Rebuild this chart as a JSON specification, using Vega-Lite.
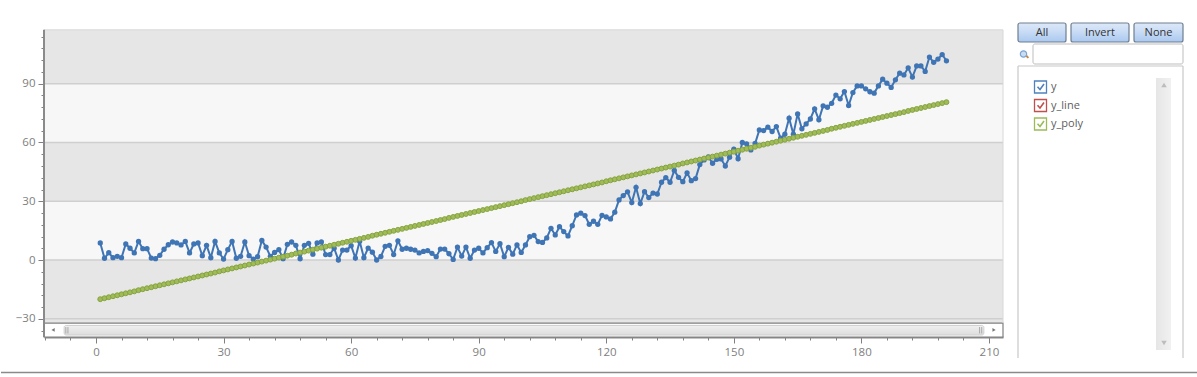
{"$schema":"https://vega.github.io/schema/vega-lite/v6.json","background":"white","padding":{"left":0,"top":22,"right":0,"bottom":0},"config":{"view":{"stroke":null},"font":"Open Sans"},"datasets":{"series":[{"x":1,"y":8.7,"y_line":-20,"y_poly":-20},{"x":2,"y":0.9,"y_line":-19.5,"y_poly":-19.5},{"x":3,"y":3.7,"y_line":-19,"y_poly":-19},{"x":4,"y":1.2,"y_line":-18.5,"y_poly":-18.5},{"x":5,"y":1.9,"y_line":-18,"y_poly":-18},{"x":6,"y":1.2,"y_line":-17.5,"y_poly":-17.5},{"x":7,"y":8.2,"y_line":-17,"y_poly":-17},{"x":8,"y":6,"y_line":-16.5,"y_poly":-16.5},{"x":9,"y":3.6,"y_line":-16,"y_poly":-16},{"x":10,"y":9.5,"y_line":-15.4,"y_poly":-15.4},{"x":11,"y":5.8,"y_line":-14.9,"y_poly":-14.9},{"x":12,"y":5.8,"y_line":-14.4,"y_poly":-14.4},{"x":13,"y":1,"y_line":-13.9,"y_poly":-13.9},{"x":14,"y":0.7,"y_line":-13.4,"y_poly":-13.4},{"x":15,"y":2.4,"y_line":-12.9,"y_poly":-12.9},{"x":16,"y":5.5,"y_line":-12.4,"y_poly":-12.4},{"x":17,"y":7.8,"y_line":-11.9,"y_poly":-11.9},{"x":18,"y":9.2,"y_line":-11.4,"y_poly":-11.4},{"x":19,"y":8.7,"y_line":-10.9,"y_poly":-10.9},{"x":20,"y":7.7,"y_line":-10.4,"y_poly":-10.4},{"x":21,"y":9.5,"y_line":-9.9,"y_poly":-9.9},{"x":22,"y":3.6,"y_line":-9.4,"y_poly":-9.4},{"x":23,"y":8.2,"y_line":-8.9,"y_poly":-8.9},{"x":24,"y":8.7,"y_line":-8.4,"y_poly":-8.4},{"x":25,"y":2.2,"y_line":-7.9,"y_poly":-7.9},{"x":26,"y":7.5,"y_line":-7.4,"y_poly":-7.4},{"x":27,"y":1.2,"y_line":-6.9,"y_poly":-6.9},{"x":28,"y":9.5,"y_line":-6.4,"y_poly":-6.4},{"x":29,"y":3.6,"y_line":-5.8,"y_poly":-5.8},{"x":30,"y":0.5,"y_line":-5.3,"y_poly":-5.3},{"x":31,"y":5.3,"y_line":-4.8,"y_poly":-4.8},{"x":32,"y":9.5,"y_line":-4.3,"y_poly":-4.3},{"x":33,"y":0.9,"y_line":-3.8,"y_poly":-3.8},{"x":34,"y":1.9,"y_line":-3.3,"y_poly":-3.3},{"x":35,"y":9.2,"y_line":-2.8,"y_poly":-2.8},{"x":36,"y":2.2,"y_line":-2.3,"y_poly":-2.3},{"x":37,"y":0.5,"y_line":-1.8,"y_poly":-1.8},{"x":38,"y":1.7,"y_line":-1.3,"y_poly":-1.3},{"x":39,"y":10,"y_line":-0.8,"y_poly":-0.8},{"x":40,"y":6.6,"y_line":-0.3,"y_poly":-0.3},{"x":41,"y":1.9,"y_line":0.2,"y_poly":0.2},{"x":42,"y":3.9,"y_line":0.7,"y_poly":0.7},{"x":43,"y":5.3,"y_line":1.2,"y_poly":1.2},{"x":44,"y":0.7,"y_line":1.7,"y_poly":1.7},{"x":45,"y":8,"y_line":2.2,"y_poly":2.2},{"x":46,"y":9.2,"y_line":2.7,"y_poly":2.7},{"x":47,"y":7.5,"y_line":3.3,"y_poly":3.3},{"x":48,"y":0.7,"y_line":3.8,"y_poly":3.8},{"x":49,"y":7.5,"y_line":4.3,"y_poly":4.3},{"x":50,"y":8.5,"y_line":4.8,"y_poly":4.8},{"x":51,"y":3,"y_line":5.3,"y_poly":5.3},{"x":52,"y":8.7,"y_line":5.8,"y_poly":5.8},{"x":53,"y":9.2,"y_line":6.3,"y_poly":6.3},{"x":54,"y":2.8,"y_line":6.8,"y_poly":6.8},{"x":55,"y":2.8,"y_line":7.3,"y_poly":7.3},{"x":56,"y":6,"y_line":7.8,"y_poly":7.8},{"x":57,"y":0,"y_line":8.3,"y_poly":8.3},{"x":58,"y":5.1,"y_line":8.8,"y_poly":8.8},{"x":59,"y":5.1,"y_line":9.3,"y_poly":9.3},{"x":60,"y":7.3,"y_line":9.8,"y_poly":9.8},{"x":61,"y":1,"y_line":10.3,"y_poly":10.3},{"x":62,"y":9.6,"y_line":10.8,"y_poly":10.8},{"x":63,"y":1.2,"y_line":11.3,"y_poly":11.3},{"x":64,"y":6.1,"y_line":11.8,"y_poly":11.8},{"x":65,"y":4,"y_line":12.4,"y_poly":12.4},{"x":66,"y":0,"y_line":12.9,"y_poly":12.9},{"x":67,"y":1.8,"y_line":13.4,"y_poly":13.4},{"x":68,"y":7,"y_line":13.9,"y_poly":13.9},{"x":69,"y":7.5,"y_line":14.4,"y_poly":14.4},{"x":70,"y":2.8,"y_line":14.9,"y_poly":14.9},{"x":71,"y":9.8,"y_line":15.4,"y_poly":15.4},{"x":72,"y":5.5,"y_line":15.9,"y_poly":15.9},{"x":73,"y":6,"y_line":16.4,"y_poly":16.4},{"x":74,"y":5.5,"y_line":16.9,"y_poly":16.9},{"x":75,"y":5.1,"y_line":17.4,"y_poly":17.4},{"x":76,"y":3.6,"y_line":17.9,"y_poly":17.9},{"x":77,"y":4.4,"y_line":18.4,"y_poly":18.4},{"x":78,"y":4.8,"y_line":18.9,"y_poly":18.9},{"x":79,"y":3.4,"y_line":19.4,"y_poly":19.4},{"x":80,"y":1.7,"y_line":19.9,"y_poly":19.9},{"x":81,"y":5.6,"y_line":20.4,"y_poly":20.4},{"x":82,"y":5.6,"y_line":20.9,"y_poly":20.9},{"x":83,"y":3.2,"y_line":21.5,"y_poly":21.5},{"x":84,"y":0.3,"y_line":22,"y_poly":22},{"x":85,"y":6.6,"y_line":22.5,"y_poly":22.5},{"x":86,"y":2,"y_line":23,"y_poly":23},{"x":87,"y":6.6,"y_line":23.5,"y_poly":23.5},{"x":88,"y":0.9,"y_line":24,"y_poly":24},{"x":89,"y":5.1,"y_line":24.5,"y_poly":24.5},{"x":90,"y":6,"y_line":25,"y_poly":25},{"x":91,"y":3.6,"y_line":25.5,"y_poly":25.5},{"x":92,"y":6.3,"y_line":26,"y_poly":26},{"x":93,"y":8.9,"y_line":26.5,"y_poly":26.5},{"x":94,"y":4.4,"y_line":27,"y_poly":27},{"x":95,"y":8.3,"y_line":27.5,"y_poly":27.5},{"x":96,"y":1.7,"y_line":28,"y_poly":28},{"x":97,"y":6.5,"y_line":28.5,"y_poly":28.5},{"x":98,"y":3,"y_line":29,"y_poly":29},{"x":99,"y":7.7,"y_line":29.5,"y_poly":29.5},{"x":100,"y":3.9,"y_line":30,"y_poly":30},{"x":101,"y":7.7,"y_line":30.6,"y_poly":30.6},{"x":102,"y":11.9,"y_line":31.1,"y_poly":31.1},{"x":103,"y":12.6,"y_line":31.6,"y_poly":31.6},{"x":104,"y":9.4,"y_line":32.1,"y_poly":32.1},{"x":105,"y":9,"y_line":32.6,"y_poly":32.6},{"x":106,"y":11.3,"y_line":33.1,"y_poly":33.1},{"x":107,"y":16.2,"y_line":33.6,"y_poly":33.6},{"x":108,"y":12.8,"y_line":34.1,"y_poly":34.1},{"x":109,"y":17,"y_line":34.6,"y_poly":34.6},{"x":110,"y":14.5,"y_line":35.1,"y_poly":35.1},{"x":111,"y":12.3,"y_line":35.6,"y_poly":35.6},{"x":112,"y":17.5,"y_line":36.1,"y_poly":36.1},{"x":113,"y":23,"y_line":36.6,"y_poly":36.6},{"x":114,"y":23.9,"y_line":37.1,"y_poly":37.1},{"x":115,"y":22.7,"y_line":37.6,"y_poly":37.6},{"x":116,"y":18.2,"y_line":38.1,"y_poly":38.1},{"x":117,"y":19.8,"y_line":38.6,"y_poly":38.6},{"x":118,"y":18.2,"y_line":39.1,"y_poly":39.1},{"x":119,"y":22.8,"y_line":39.6,"y_poly":39.6},{"x":120,"y":22,"y_line":40.2,"y_poly":40.2},{"x":121,"y":21,"y_line":40.7,"y_poly":40.7},{"x":122,"y":24.4,"y_line":41.2,"y_poly":41.2},{"x":123,"y":30.7,"y_line":41.7,"y_poly":41.7},{"x":124,"y":32.9,"y_line":42.2,"y_poly":42.2},{"x":125,"y":34.8,"y_line":42.7,"y_poly":42.7},{"x":126,"y":29.3,"y_line":43.2,"y_poly":43.2},{"x":127,"y":37.1,"y_line":43.7,"y_poly":43.7},{"x":128,"y":28.8,"y_line":44.2,"y_poly":44.2},{"x":129,"y":34.9,"y_line":44.7,"y_poly":44.7},{"x":130,"y":31.9,"y_line":45.2,"y_poly":45.2},{"x":131,"y":34.2,"y_line":45.7,"y_poly":45.7},{"x":132,"y":33.7,"y_line":46.2,"y_poly":46.2},{"x":133,"y":39.7,"y_line":46.7,"y_poly":46.7},{"x":134,"y":42.1,"y_line":47.2,"y_poly":47.2},{"x":135,"y":39.7,"y_line":47.7,"y_poly":47.7},{"x":136,"y":45.7,"y_line":48.2,"y_poly":48.2},{"x":137,"y":42.2,"y_line":48.7,"y_poly":48.7},{"x":138,"y":40,"y_line":49.3,"y_poly":49.3},{"x":139,"y":44.5,"y_line":49.8,"y_poly":49.8},{"x":140,"y":40.5,"y_line":50.3,"y_poly":50.3},{"x":141,"y":41.6,"y_line":50.8,"y_poly":50.8},{"x":142,"y":48.7,"y_line":51.3,"y_poly":51.3},{"x":143,"y":51.1,"y_line":51.8,"y_poly":51.8},{"x":144,"y":52.6,"y_line":52.3,"y_poly":52.3},{"x":145,"y":49.4,"y_line":52.8,"y_poly":52.8},{"x":146,"y":51.4,"y_line":53.3,"y_poly":53.3},{"x":147,"y":51.6,"y_line":53.8,"y_poly":53.8},{"x":148,"y":48,"y_line":54.3,"y_poly":54.3},{"x":149,"y":52.5,"y_line":54.8,"y_poly":54.8},{"x":150,"y":56.6,"y_line":55.3,"y_poly":55.3},{"x":151,"y":51.7,"y_line":55.8,"y_poly":55.8},{"x":152,"y":60,"y_line":56.3,"y_poly":56.3},{"x":153,"y":59.3,"y_line":56.8,"y_poly":56.8},{"x":154,"y":56.2,"y_line":57.3,"y_poly":57.3},{"x":155,"y":59.5,"y_line":57.8,"y_poly":57.8},{"x":156,"y":66.4,"y_line":58.4,"y_poly":58.4},{"x":157,"y":66.1,"y_line":58.9,"y_poly":58.9},{"x":158,"y":67.8,"y_line":59.4,"y_poly":59.4},{"x":159,"y":65.6,"y_line":59.9,"y_poly":59.9},{"x":160,"y":68.1,"y_line":60.4,"y_poly":60.4},{"x":161,"y":62.2,"y_line":60.9,"y_poly":60.9},{"x":162,"y":64.2,"y_line":61.4,"y_poly":61.4},{"x":163,"y":72.4,"y_line":61.9,"y_poly":61.9},{"x":164,"y":64.2,"y_line":62.4,"y_poly":62.4},{"x":165,"y":74.6,"y_line":62.9,"y_poly":62.9},{"x":166,"y":67,"y_line":63.4,"y_poly":63.4},{"x":167,"y":69.5,"y_line":63.9,"y_poly":63.9},{"x":168,"y":72,"y_line":64.4,"y_poly":64.4},{"x":169,"y":77.2,"y_line":64.9,"y_poly":64.9},{"x":170,"y":71.6,"y_line":65.4,"y_poly":65.4},{"x":171,"y":78.7,"y_line":65.9,"y_poly":65.9},{"x":172,"y":78,"y_line":66.4,"y_poly":66.4},{"x":173,"y":80,"y_line":67,"y_poly":67},{"x":174,"y":84.2,"y_line":67.5,"y_poly":67.5},{"x":175,"y":82.3,"y_line":68,"y_poly":68},{"x":176,"y":86,"y_line":68.5,"y_poly":68.5},{"x":177,"y":78.9,"y_line":69,"y_poly":69},{"x":178,"y":85.5,"y_line":69.5,"y_poly":69.5},{"x":179,"y":88.9,"y_line":70,"y_poly":70},{"x":180,"y":88.9,"y_line":70.5,"y_poly":70.5},{"x":181,"y":87.4,"y_line":71,"y_poly":71},{"x":182,"y":85.9,"y_line":71.5,"y_poly":71.5},{"x":183,"y":85.2,"y_line":72,"y_poly":72},{"x":184,"y":88.9,"y_line":72.5,"y_poly":72.5},{"x":185,"y":92.3,"y_line":73,"y_poly":73},{"x":186,"y":90.3,"y_line":73.5,"y_poly":73.5},{"x":187,"y":88.1,"y_line":74,"y_poly":74},{"x":188,"y":92,"y_line":74.5,"y_poly":74.5},{"x":189,"y":95.4,"y_line":75,"y_poly":75},{"x":190,"y":94.5,"y_line":75.5,"y_poly":75.5},{"x":191,"y":98.1,"y_line":76.1,"y_poly":76.1},{"x":192,"y":93.4,"y_line":76.6,"y_poly":76.6},{"x":193,"y":99.1,"y_line":77.1,"y_poly":77.1},{"x":194,"y":99.1,"y_line":77.6,"y_poly":77.6},{"x":195,"y":96.3,"y_line":78.1,"y_poly":78.1},{"x":196,"y":103.6,"y_line":78.6,"y_poly":78.6},{"x":197,"y":100.9,"y_line":79.1,"y_poly":79.1},{"x":198,"y":102.6,"y_line":79.6,"y_poly":79.6},{"x":199,"y":104.9,"y_line":80.1,"y_poly":80.1},{"x":200,"y":101.7,"y_line":80.6,"y_poly":80.6}]},"vconcat":[{"hconcat":[{"width":959,"height":314,"resolve":{"axis":{"x":"independent","y":"independent"}},"layer":[{"data":{"values":[{"low":-32.2,"high":0,"tone":"grey"},{"low":0,"high":30,"tone":"pale"},{"low":30,"high":60,"tone":"grey"},{"low":60,"high":90,"tone":"pale"},{"low":90,"high":117.5,"tone":"grey"}]},"mark":{"type":"rect"},"encoding":{"y":{"field":"low","type":"quantitative","scale":{"domain":[-39.3,121],"nice":false,"zero":false},"axis":{"title":null,"domain":false,"grid":false,"values":[-36,-30,-24,-18,-12,-6,0,6,12,18,24,30,36,42,48,54,60,66,72,78,84,90,96,102,108,114],"labelExpr":"datum.value % 30 === 0 ? datum.label : ''","labelColor":"#808080","labelFontSize":11.5,"labelFont":"Open Sans","labelPadding":3,"tickColor":"#808080","tickWidth":1,"tickSize":{"condition":{"test":"datum.value % 30 === 0","value":6},"value":3},"minExtent":43,"maxExtent":43,"labelOverlap":false,"labelBound":false,"labelFlush":false}},"y2":{"field":"high"},"fill":{"field":"tone","type":"nominal","scale":{"domain":["grey","pale"],"range":["#E6E6E6","#F7F7F7"]},"legend":null}}},{"data":{"values":[{"level":-30},{"level":0},{"level":30},{"level":60},{"level":90}]},"mark":{"type":"rule","color":"#CFCFCF","strokeWidth":1.5},"encoding":{"y":{"field":"level","type":"quantitative","scale":{"domain":[-39.3,121],"nice":false,"zero":false},"axis":null}}},{"data":{"values":[{"edge":117.5}]},"mark":{"type":"rule","color":"#D8D8D8","strokeWidth":1},"encoding":{"y":{"field":"edge","type":"quantitative","scale":{"domain":[-39.3,121],"nice":false,"zero":false},"axis":null}}},{"data":{"values":[{"x":-12.23,"x2":213.3,"low":-39.3,"high":-32.2}]},"mark":{"type":"rect","fill":"white","stroke":"#808080","strokeWidth":1.2},"encoding":{"x":{"field":"x","type":"quantitative","scale":{"domain":[-12.23,213.3],"nice":false,"zero":false},"axis":null},"x2":{"field":"x2"},"y":{"field":"low","type":"quantitative","scale":{"domain":[-39.3,121],"nice":false,"zero":false},"axis":null},"y2":{"field":"high"}}},{"data":{"values":[{"x":-7.5,"x2":208.8,"low":-38.3,"high":-33.4}]},"mark":{"type":"rect","cornerRadius":2,"stroke":"#CFCFCF","fill":{"gradient":"linear","x1":0,"y1":0,"x2":0,"y2":1,"stops":[{"offset":0,"color":"#F0F0F0"},{"offset":1,"color":"#DDDDDD"}]}},"encoding":{"x":{"field":"x","type":"quantitative","scale":{"domain":[-12.23,213.3],"nice":false,"zero":false},"axis":null},"x2":{"field":"x2"},"y":{"field":"low","type":"quantitative","scale":{"domain":[-39.3,121],"nice":false,"zero":false},"axis":null},"y2":{"field":"high"}}},{"data":{"values":[{"x":-7.1},{"x":-6.6},{"x":207.8},{"x":208.3}]},"mark":{"type":"rule","color":"#A8A8A8","strokeWidth":1},"encoding":{"x":{"field":"x","type":"quantitative","scale":{"domain":[-12.23,213.3],"nice":false,"zero":false},"axis":null},"y":{"datum":-37.5,"type":"quantitative","scale":{"domain":[-39.3,121],"nice":false,"zero":false},"axis":null},"y2":{"datum":-34.2}}},{"data":{"values":[{"x":-10.1,"arrow":"triangle-left"},{"x":211.2,"arrow":"triangle-right"}]},"mark":{"type":"point","filled":true,"color":"#777777","size":14,"opacity":1},"encoding":{"x":{"field":"x","type":"quantitative","scale":{"domain":[-12.23,213.3],"nice":false,"zero":false},"axis":null},"y":{"datum":-35.7,"type":"quantitative","scale":{"domain":[-39.3,121],"nice":false,"zero":false},"axis":null},"shape":{"field":"arrow","type":"nominal","scale":null}}},{"data":{"values":[{"a":-12.23,"low":-39.3,"high":117.5}]},"mark":{"type":"rule","color":"#8A8A8A","strokeWidth":2},"encoding":{"x":{"field":"a","type":"quantitative","scale":{"domain":[-12.23,213.3],"nice":false,"zero":false},"axis":{"title":null,"domainColor":"#8A8A8A","domainWidth":2,"values":[-12,-6,0,6,12,18,24,30,36,42,48,54,60,66,72,78,84,90,96,102,108,114,120,126,132,138,144,150,156,162,168,174,180,186,192,198,204,210],"labelExpr":"datum.value % 30 === 0 ? datum.label : ''","labelColor":"#808080","labelFontSize":11.5,"labelFont":"Open Sans","labelPadding":3,"tickColor":"#808080","tickWidth":1,"tickSize":{"condition":{"test":"datum.value % 30 === 0","value":6},"value":3},"minExtent":25,"maxExtent":25,"labelOverlap":false,"labelBound":false,"labelFlush":false,"grid":false}},"y":{"field":"low","type":"quantitative","scale":{"domain":[-39.3,121],"nice":false,"zero":false},"axis":null},"y2":{"field":"high"}}},{"data":{"values":[{"a":213.3,"low":-32.2,"high":117.5}]},"mark":{"type":"rule","color":"#D8D8D8","strokeWidth":1},"encoding":{"x":{"field":"a","type":"quantitative","scale":{"domain":[-12.23,213.3],"nice":false,"zero":false},"axis":null},"y":{"field":"low","type":"quantitative","scale":{"domain":[-39.3,121],"nice":false,"zero":false},"axis":null},"y2":{"field":"high"}}},{"data":{"name":"series"},"mark":{"type":"line","color":"#3F75B5","strokeWidth":2,"point":{"filled":true,"color":"#3F75B5","size":28,"opacity":1}},"encoding":{"x":{"field":"x","type":"quantitative","scale":{"domain":[-12.23,213.3],"nice":false,"zero":false},"axis":null},"y":{"field":"y","type":"quantitative","scale":{"domain":[-39.3,121],"nice":false,"zero":false},"axis":null}}},{"data":{"name":"series"},"mark":{"type":"line","color":"#C0504D","strokeWidth":2},"encoding":{"x":{"field":"x","type":"quantitative","scale":{"domain":[-12.23,213.3],"nice":false,"zero":false},"axis":null},"y":{"field":"y_line","type":"quantitative","scale":{"domain":[-39.3,121],"nice":false,"zero":false},"axis":null}}},{"data":{"name":"series"},"mark":{"type":"line","color":"#8FAC45","strokeWidth":2,"point":{"filled":true,"fill":"#A0BC58","stroke":"#86A340","strokeWidth":1,"size":24,"opacity":1}},"encoding":{"x":{"field":"x","type":"quantitative","scale":{"domain":[-12.23,213.3],"nice":false,"zero":false},"axis":null},"y":{"field":"y_poly","type":"quantitative","scale":{"domain":[-39.3,121],"nice":false,"zero":false},"axis":null}}}]},{"spacing":0,"vconcat":[{"width":165,"height":19,"layer":[{"data":{"values":[{"label":"All"}]},"layer":[{"mark":{"type":"rect","cornerRadius":2,"stroke":"#6F7F90","strokeWidth":1.2,"fill":{"gradient":"linear","x1":0,"y1":0,"x2":0,"y2":1,"stops":[{"offset":0,"color":"#DDE9F8"},{"offset":0.45,"color":"#C9DCF5"},{"offset":1,"color":"#A9C8F0"}]}},"encoding":{"x":{"datum":0,"type":"quantitative","scale":{"domain":[0,165],"nice":false},"axis":null},"x2":{"datum":48}}},{"mark":{"type":"text","color":"#333333","fontSize":11,"fontWeight":500},"encoding":{"x":{"datum":24,"type":"quantitative","scale":{"domain":[0,165],"nice":false},"axis":null},"text":{"field":"label"}}}]},{"data":{"values":[{"label":"Invert"}]},"layer":[{"mark":{"type":"rect","cornerRadius":2,"stroke":"#6F7F90","strokeWidth":1.2,"fill":{"gradient":"linear","x1":0,"y1":0,"x2":0,"y2":1,"stops":[{"offset":0,"color":"#DDE9F8"},{"offset":0.45,"color":"#C9DCF5"},{"offset":1,"color":"#A9C8F0"}]}},"encoding":{"x":{"datum":53,"type":"quantitative","scale":{"domain":[0,165],"nice":false},"axis":null},"x2":{"datum":111}}},{"mark":{"type":"text","color":"#333333","fontSize":11,"fontWeight":500},"encoding":{"x":{"datum":82,"type":"quantitative","scale":{"domain":[0,165],"nice":false},"axis":null},"text":{"field":"label"}}}]},{"data":{"values":[{"label":"None"}]},"layer":[{"mark":{"type":"rect","cornerRadius":2,"stroke":"#6F7F90","strokeWidth":1.2,"fill":{"gradient":"linear","x1":0,"y1":0,"x2":0,"y2":1,"stops":[{"offset":0,"color":"#DDE9F8"},{"offset":0.45,"color":"#C9DCF5"},{"offset":1,"color":"#A9C8F0"}]}},"encoding":{"x":{"datum":116,"type":"quantitative","scale":{"domain":[0,165],"nice":false},"axis":null},"x2":{"datum":165}}},{"mark":{"type":"text","color":"#333333","fontSize":11,"fontWeight":500},"encoding":{"x":{"datum":140.5,"type":"quantitative","scale":{"domain":[0,165],"nice":false},"axis":null},"text":{"field":"label"}}}]}]},{"width":165,"height":20,"data":{"values":[{"part":"search"}]},"layer":[{"mark":{"type":"rect","fill":"white","stroke":"#BDBDBD","cornerRadius":2},"encoding":{"x":{"datum":15,"type":"quantitative","scale":{"domain":[0,165],"nice":false},"axis":null},"x2":{"datum":165}}},{"mark":{"type":"point","shape":"M0.4,0.4L1,1","stroke":"#C98A3C","strokeWidth":2,"size":60,"opacity":1},"encoding":{"x":{"datum":6.5,"type":"quantitative","scale":{"domain":[0,165],"nice":false},"axis":null}}},{"mark":{"type":"point","filled":true,"fill":"#C9DDF2","stroke":"#7FA6D2","strokeWidth":1.2,"size":40,"opacity":1},"encoding":{"x":{"datum":5.5,"type":"quantitative","scale":{"domain":[0,165],"nice":false},"axis":null}}}]},{"width":165,"height":292,"resolve":{"scale":{"x":"independent","y":"independent"}},"layer":[{"data":{"values":[{"side":"frame"}]},"layer":[{"mark":{"type":"rule","color":"#C8C8C8","strokeWidth":1.2},"encoding":{"x":{"datum":0,"type":"quantitative","scale":{"domain":[0,165],"nice":false},"axis":null},"y":{"datum":0,"type":"quantitative","scale":{"domain":[0,292],"reverse":true,"nice":false},"axis":null},"y2":{"datum":292}}},{"mark":{"type":"rule","color":"#C8C8C8","strokeWidth":1.2},"encoding":{"x":{"datum":165,"type":"quantitative","scale":{"domain":[0,165],"nice":false},"axis":null},"y":{"datum":0,"type":"quantitative","scale":{"domain":[0,292],"reverse":true,"nice":false},"axis":null},"y2":{"datum":292}}},{"mark":{"type":"rule","color":"#C8C8C8","strokeWidth":1.2},"encoding":{"x":{"datum":0,"type":"quantitative","scale":{"domain":[0,165],"nice":false},"axis":null},"x2":{"datum":165},"y":{"datum":0,"type":"quantitative","scale":{"domain":[0,292],"reverse":true,"nice":false},"axis":null}}},{"mark":{"type":"rect","fill":{"gradient":"linear","x1":0,"y1":0,"x2":1,"y2":0,"stops":[{"offset":0,"color":"#E6E6E6"},{"offset":1,"color":"#F1F1F1"}]}},"encoding":{"x":{"datum":138,"type":"quantitative","scale":{"domain":[0,165],"nice":false},"axis":null},"x2":{"datum":153},"y":{"datum":12,"type":"quantitative","scale":{"domain":[0,292],"reverse":true,"nice":false},"axis":null},"y2":{"datum":284}}},{"mark":{"type":"point","shape":"triangle-up","filled":true,"color":"#BDBDBD","size":30,"opacity":1},"encoding":{"x":{"datum":146,"type":"quantitative","scale":{"domain":[0,165],"nice":false},"axis":null},"y":{"datum":19,"type":"quantitative","scale":{"domain":[0,292],"reverse":true,"nice":false},"axis":null}}},{"mark":{"type":"point","shape":"triangle-down","filled":true,"color":"#BDBDBD","size":30,"opacity":1},"encoding":{"x":{"datum":146,"type":"quantitative","scale":{"domain":[0,165],"nice":false},"axis":null},"y":{"datum":277,"type":"quantitative","scale":{"domain":[0,292],"reverse":true,"nice":false},"axis":null}}}]},{"data":{"values":[{"series":"y"},{"series":"y_line"},{"series":"y_poly"}]},"layer":[{"mark":{"type":"point","shape":"square","filled":false,"fill":"white","size":144,"strokeWidth":1.3,"opacity":1},"encoding":{"x":{"datum":22.5,"type":"quantitative","scale":{"domain":[0,165],"nice":false},"axis":null},"y":{"field":"series","type":"nominal","scale":{"type":"point","domain":["y","y_line","y_poly"],"range":[21,58],"padding":0},"axis":null},"stroke":{"field":"series","type":"nominal","scale":{"domain":["y","y_line","y_poly"],"range":["#4F81BD","#C0504D","#9BBB59"]},"legend":null}}},{"mark":{"type":"point","shape":"M-0.6,-0.05L-0.1,0.5L0.7,-0.6","filled":false,"size":100,"strokeWidth":1.6,"opacity":1},"encoding":{"x":{"datum":22.5,"type":"quantitative","scale":{"domain":[0,165],"nice":false},"axis":null},"y":{"field":"series","type":"nominal","scale":{"type":"point","domain":["y","y_line","y_poly"],"range":[21,58],"padding":0},"axis":null},"stroke":{"field":"series","type":"nominal","scale":{"domain":["y","y_line","y_poly"],"range":["#4F81BD","#C0504D","#9BBB59"]},"legend":null}}},{"mark":{"type":"text","align":"left","color":"#606060","fontSize":11},"encoding":{"x":{"datum":33,"type":"quantitative","scale":{"domain":[0,165],"nice":false},"axis":null},"y":{"field":"series","type":"nominal","scale":{"type":"point","domain":["y","y_line","y_poly"],"range":[21,58],"padding":0},"axis":null},"text":{"field":"series"}}}]}]}]}],"spacing":13},{"width":1154,"height":1,"data":{"values":[{"from":0,"to":1197}]},"mark":{"type":"rule","color":"#8A8A8A","strokeWidth":1.5,"clip":false},"encoding":{"x":{"field":"from","type":"quantitative","scale":{"domain":[43,1197],"nice":false},"axis":null},"x2":{"field":"to"}}}],"spacing":9}
